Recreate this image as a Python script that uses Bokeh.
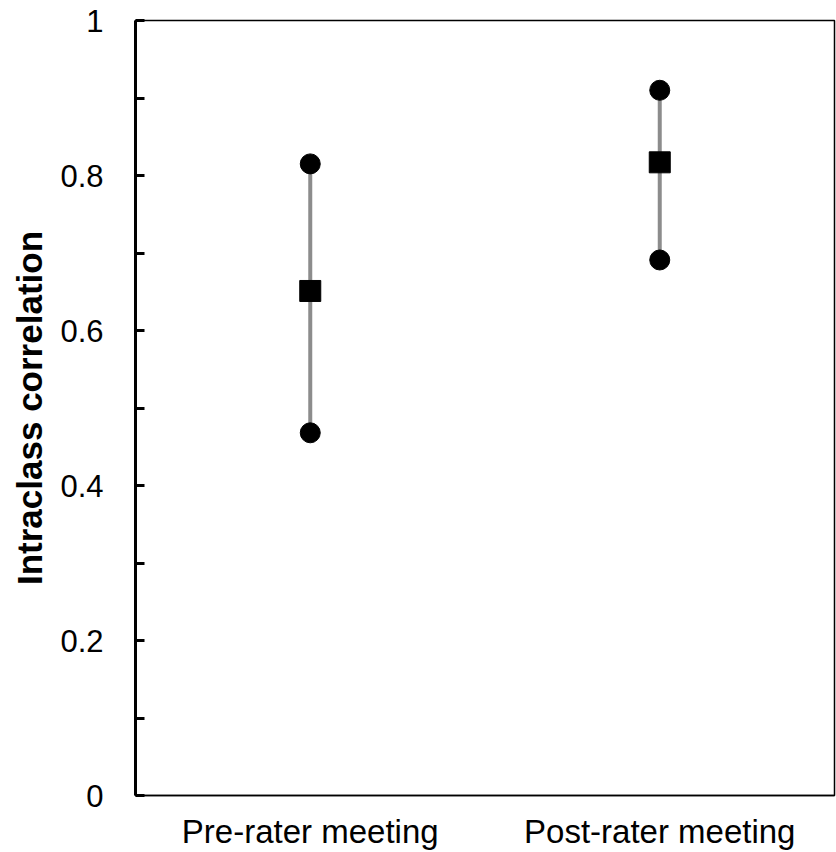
from bokeh.plotting import figure
from bokeh.models import FactorRange, Range1d, FixedTicker, ColumnDataSource
from bokeh.embed import file_html
from bokeh.resources import INLINE

# ---- data ----
categories = ["Pre-rater meeting", "Post-rater meeting"]
icc_mean = [0.651, 0.817]
ci_lower = [0.468, 0.691]
ci_upper = [0.815, 0.910]

ytick_values = [0, 0.2, 0.4, 0.6, 0.8, 1]
ytick_labels = ["0", "0.2", "0.4", "0.6", "0.8", "1"]
yminor_values = [0.1, 0.3, 0.5, 0.7, 0.9]

FONT = "Liberation Sans"

p = figure(
    x_range=FactorRange(*categories),
    y_range=Range1d(0, 1),
    frame_width=699, frame_height=775,
    min_border_left=135, min_border_top=20, min_border_right=2, min_border_bottom=55,
    output_backend="svg", toolbar_location=None,
    background_fill_color="white", border_fill_color="white",
)
p.xgrid.visible = False
p.ygrid.visible = False
p.outline_line_color = "black"
p.outline_line_width = 1.5

src = ColumnDataSource(dict(cat=categories, mean=icc_mean, lo=ci_lower, hi=ci_upper))
p.segment(x0="cat", y0="lo", x1="cat", y1="hi", source=src, line_color="#8c8c8c", line_width=4)
p.scatter(x="cat", y="lo", source=src, marker="circle", size=20, fill_color="black", line_color="black")
p.scatter(x="cat", y="hi", source=src, marker="circle", size=20, fill_color="black", line_color="black")
p.scatter(x="cat", y="mean", source=src, marker="square", size=21, fill_color="black", line_color="black")

# y axis
ya = p.yaxis[0]
ya.ticker = FixedTicker(ticks=ytick_values, minor_ticks=yminor_values)
ya.major_label_overrides = {v: l for v, l in zip(ytick_values, ytick_labels)}
ya.axis_line_width = 3
ya.axis_line_color = "black"
ya.major_tick_in = 9
ya.major_tick_out = 0
ya.minor_tick_in = 9
ya.minor_tick_out = 0
ya.major_tick_line_width = 3
ya.minor_tick_line_width = 3
ya.major_tick_line_color = "black"
ya.minor_tick_line_color = "black"
ya.major_label_text_font = FONT
ya.major_label_text_font_size = "31px"
ya.major_label_text_color = "black"
ya.major_label_standoff = 32
ya.axis_label = "Intraclass correlation"
ya.axis_label_text_font = FONT
ya.axis_label_text_font_size = "35px"
ya.axis_label_text_font_style = "bold"
ya.axis_label_text_color = "black"
ya.axis_label_standoff = 8

# x axis
xa = p.xaxis[0]
xa.axis_line_color = "black"
xa.axis_line_width = 1.5
xa.major_tick_line_color = None
xa.minor_tick_line_color = None
xa.major_tick_in = 0
xa.major_tick_out = 0
xa.major_label_text_font = FONT
xa.major_label_text_font_size = "33px"
xa.major_label_text_color = "black"
xa.major_label_standoff = 17

open("out.html", "w").write(file_html(p, INLINE))
